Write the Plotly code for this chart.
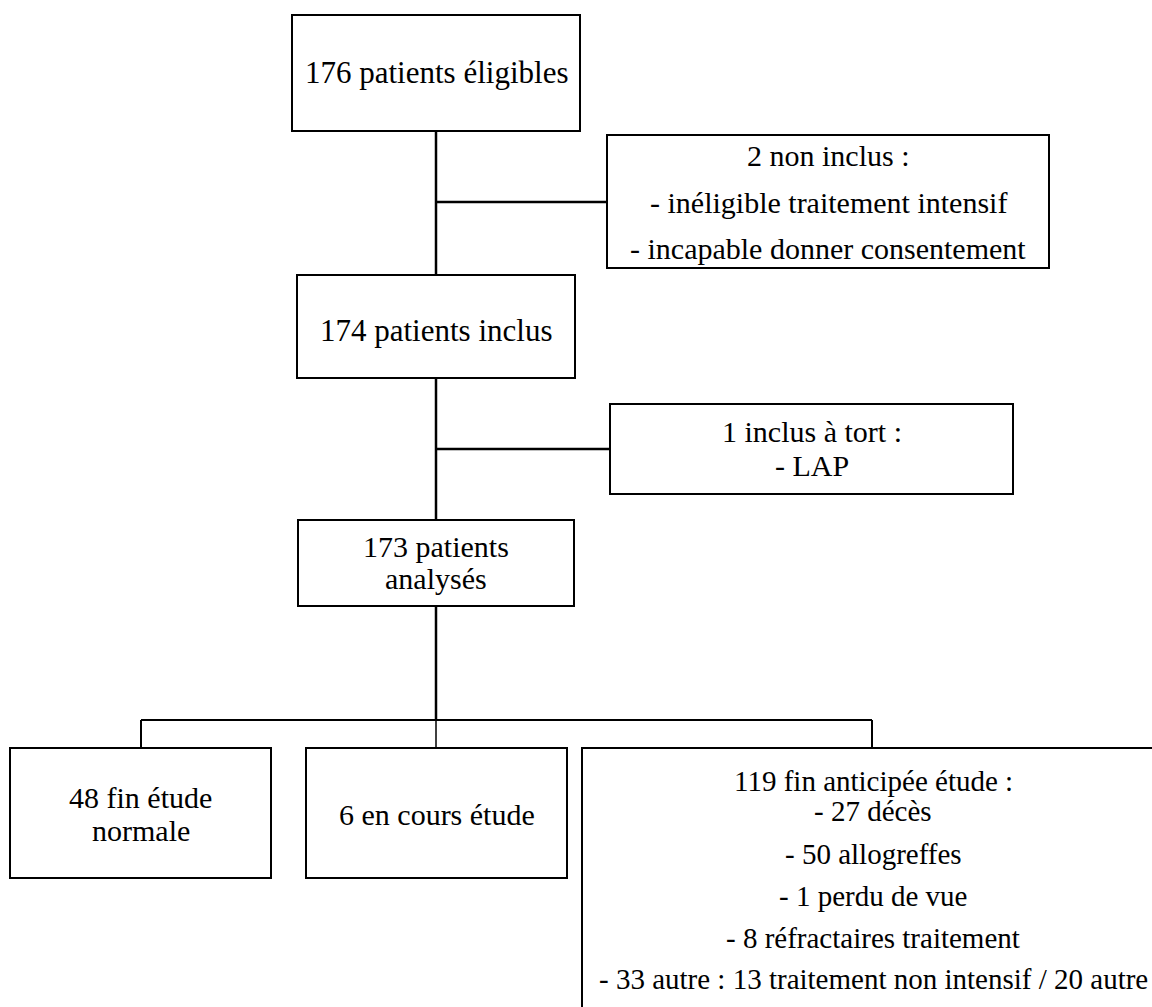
import plotly.graph_objects as go

W, H = 1152, 1007

# Box texts (one list per box; each item one line)
box_eligible = ["176 patients éligibles"]
box_non_inclus = ["2 non inclus :", "- inéligible traitement intensif", "- incapable donner consentement"]
box_inclus = ["174 patients inclus"]
box_tort = ["1 inclus à tort :", "- LAP"]
box_analyses = ["173 patients", "analysés"]
box_fin_normale = ["48 fin étude", "normale"]
box_en_cours = ["6 en cours étude"]
box_anticipee = ["119 fin anticipée étude :", "- 27 décès", "- 50 allogreffes", "- 1 perdu de vue",
                 "- 8 réfractaires traitement", "- 33 autre : 13 traitement non intensif / 20 autre"]

FONT = "Liberation Serif, Times New Roman, serif"

# Layout geometry: (x0, y0, x1, y1), line y-centres, font size
boxes = [
    (box_eligible,   (292, 15, 580, 131),   [72],                          31),
    (box_non_inclus, (607, 135, 1049, 268), [155, 202, 248],               30),
    (box_inclus,     (297, 275, 575, 378),  [330],                         31),
    (box_tort,       (610, 404, 1013, 494), [431, 465],                    30),
    (box_analyses,   (298, 520, 574, 606),  [546, 578],                    30),
    (box_fin_normale,(10, 748, 271, 878),   [797, 830],                    30),
    (box_en_cours,   (306, 748, 567, 878),  [814],                         30),
    (box_anticipee,  (582, 748, 1163, 1020),[781, 811, 854, 896, 938, 979], 29),
]

# Connector segments (x0, y0, x1, y1, width)
connectors = [
    (436, 131, 436, 275, 2.5),
    (436, 202, 607, 202, 2.5),
    (436, 378, 436, 520, 2.5),
    (436, 449, 610, 449, 2.5),
    (436, 606, 436, 720, 2.5),
    (141, 720, 872, 720, 2),
    (141, 720, 141, 748, 2),
    (436, 720, 436, 748, 1.5),
    (872, 720, 872, 748, 2),
]

fig = go.Figure()
shapes = []
annotations = []
for lines, (x0, y0, x1, y1), ys, fs in boxes:
    shapes.append(dict(type="rect", xref="x", yref="y", x0=x0, y0=y0, x1=x1, y1=y1,
                       line=dict(color="black", width=2), fillcolor="rgba(0,0,0,0)"))
    cx = (x0 + x1) / 2
    if x1 > W:
        cx = 873
    for t, y in zip(lines, ys):
        annotations.append(dict(x=cx, y=y, xref="x", yref="y", text=t, showarrow=False,
                                xanchor="center", yanchor="middle",
                                font=dict(family=FONT, size=fs, color="black")))
for x0, y0, x1, y1, w in connectors:
    shapes.append(dict(type="line", xref="x", yref="y", x0=x0, y0=y0, x1=x1, y1=y1,
                       line=dict(color="black", width=w)))

fig.update_layout(
    width=W, height=H, margin=dict(l=0, r=0, t=0, b=0),
    paper_bgcolor="white", plot_bgcolor="white",
    font=dict(family=FONT),
    xaxis=dict(range=[0, W], visible=False, fixedrange=True),
    yaxis=dict(range=[H, 0], visible=False, fixedrange=True),
    shapes=shapes, annotations=annotations, showlegend=False,
)
fig.write_html("out.html", config={"displayModeBar": False},
               post_script="document.body.style.margin='0';document.body.style.overflow='hidden';")
